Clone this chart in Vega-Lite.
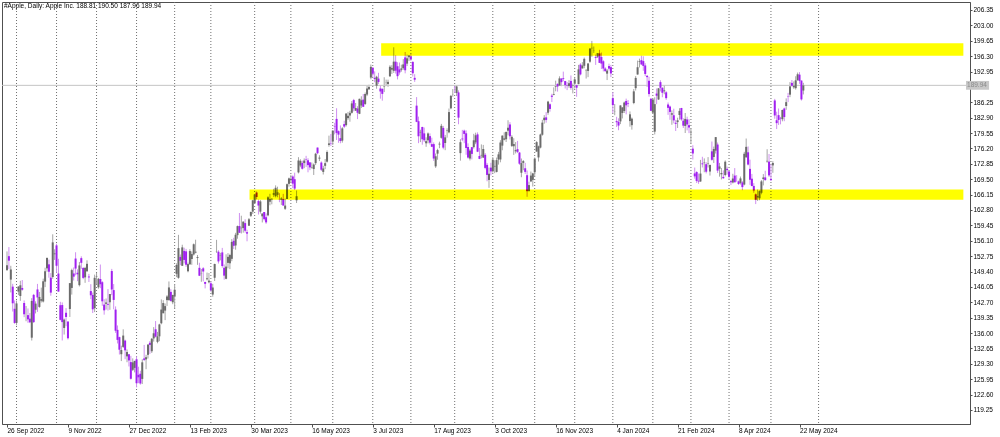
{
"$schema":"https://vega.github.io/schema/vega-lite/v6.json",
"width":968,"height":422,
"autosize":{"type":"none"},
"padding":{"left":2,"top":2,"right":30,"bottom":13},
"background":"white",
"config":{"view":{"stroke":"#505050","strokeWidth":1},"font":"Liberation Sans","axis":{"labelOverlap":false,"labelFlush":false,"labelBound":false}},
"title":{"text":"#Apple, Daily:  Apple Inc.  188.81 190.50 187.96 189.94","anchor":"start","orient":"top","offset":-8,"dx":2,"fontSize":6.5,"fontWeight":"normal","color":"#000000","font":"Liberation Sans","frame":"group"},
"datasets":{
"seps":[{"i":5},{"i":26},{"i":47},{"i":68},{"i":88},{"i":107},{"i":130},{"i":149},{"i":171},{"i":192},{"i":212},{"i":235},{"i":255},{"i":277},{"i":298},{"i":318},{"i":339},{"i":359},{"i":379},{"i":401},{"i":426}],
"zones":[{"x1":127.3,"x2":502,"lo":165.05,"hi":167.25},{"x1":196.4,"x2":502,"lo":196.4,"hi":199.1}],
"last":[{"p":189.94}],
"bars":[
{"i":0,"o":149.66,"h":153.77,"l":149.64,"c":150.77},
{"i":1,"o":152.74,"h":154.72,"l":149.95,"c":151.76},
{"i":2,"o":147.64,"h":150.64,"l":144.84,"c":149.84},
{"i":3,"o":146.10,"h":146.72,"l":140.68,"c":142.48},
{"i":4,"o":141.28,"h":143.10,"l":138.00,"c":138.20},
{"i":5,"o":138.21,"h":143.07,"l":137.69,"c":142.45},
{"i":6,"o":145.03,"h":146.22,"l":144.26,"c":146.10},
{"i":7,"o":144.07,"h":147.38,"l":143.01,"c":146.40},
{"i":8,"o":145.81,"h":147.54,"l":145.22,"c":145.43},
{"i":9,"o":142.54,"h":143.10,"l":139.45,"c":140.09},
{"i":10,"o":140.42,"h":141.89,"l":138.57,"c":140.42},
{"i":11,"o":139.90,"h":141.35,"l":138.22,"c":138.98},
{"i":12,"o":139.13,"h":140.36,"l":138.16,"c":138.34},
{"i":13,"o":134.99,"h":143.59,"l":134.37,"c":142.99},
{"i":14,"o":144.31,"h":144.52,"l":138.19,"c":138.38},
{"i":15,"o":141.07,"h":142.90,"l":140.27,"c":142.41},
{"i":16,"o":145.49,"h":146.70,"l":140.61,"c":143.75},
{"i":17,"o":141.69,"h":144.95,"l":141.50,"c":143.86},
{"i":18,"o":143.02,"h":145.89,"l":142.65,"c":143.39},
{"i":19,"o":142.87,"h":147.85,"l":142.65,"c":147.27},
{"i":20,"o":147.19,"h":150.23,"l":146.00,"c":149.45},
{"i":21,"o":150.09,"h":152.49,"l":149.36,"c":152.34},
{"i":22,"o":150.96,"h":151.99,"l":148.04,"c":149.35},
{"i":23,"o":148.07,"h":149.05,"l":144.13,"c":144.80},
{"i":24,"o":148.20,"h":157.50,"l":147.82,"c":155.74},
{"i":25,"o":153.16,"h":154.24,"l":151.92,"c":153.34},
{"i":26,"o":155.08,"h":155.45,"l":149.13,"c":150.65},
{"i":27,"o":148.95,"h":152.17,"l":145.00,"c":145.03},
{"i":28,"o":142.06,"h":142.80,"l":138.75,"c":138.88},
{"i":29,"o":142.09,"h":142.67,"l":134.38,"c":138.38},
{"i":30,"o":137.11,"h":139.15,"l":135.67,"c":138.92},
{"i":31,"o":140.41,"h":141.43,"l":137.49,"c":139.50},
{"i":32,"o":138.50,"h":138.55,"l":134.59,"c":134.87},
{"i":33,"o":141.24,"h":146.87,"l":139.50,"c":146.87},
{"i":34,"o":145.82,"h":150.01,"l":144.37,"c":149.70},
{"i":35,"o":148.97,"h":150.28,"l":147.43,"c":148.28},
{"i":36,"o":152.22,"h":153.59,"l":148.56,"c":150.04},
{"i":37,"o":149.13,"h":149.87,"l":147.29,"c":148.79},
{"i":38,"o":146.43,"h":151.48,"l":146.15,"c":150.72},
{"i":39,"o":152.31,"h":152.70,"l":149.97,"c":151.29},
{"i":40,"o":150.16,"h":150.37,"l":147.72,"c":148.01},
{"i":41,"o":148.13,"h":150.42,"l":146.93,"c":150.18},
{"i":42,"o":149.45,"h":151.83,"l":149.34,"c":151.07},
{"i":43,"o":148.31,"h":148.88,"l":147.12,"c":148.11},
{"i":44,"o":145.14,"h":146.64,"l":143.38,"c":144.22},
{"i":45,"o":144.29,"h":144.81,"l":140.35,"c":141.17},
{"i":46,"o":141.40,"h":148.72,"l":140.55,"c":148.03},
{"i":47,"o":148.21,"h":149.13,"l":146.61,"c":148.31},
{"i":48,"o":145.96,"h":148.00,"l":145.65,"c":147.81},
{"i":49,"o":147.77,"h":150.92,"l":145.77,"c":146.63},
{"i":50,"o":147.07,"h":147.30,"l":141.92,"c":142.91},
{"i":51,"o":142.19,"h":143.37,"l":140.00,"c":140.94},
{"i":52,"o":142.36,"h":143.52,"l":141.10,"c":142.65},
{"i":53,"o":142.34,"h":145.57,"l":140.90,"c":142.16},
{"i":54,"o":142.70,"h":144.50,"l":141.06,"c":144.49},
{"i":55,"o":149.50,"h":149.97,"l":144.24,"c":145.47},
{"i":56,"o":145.35,"h":146.66,"l":141.16,"c":143.21},
{"i":57,"o":141.11,"h":141.80,"l":136.03,"c":136.50},
{"i":58,"o":136.69,"h":137.65,"l":133.73,"c":134.51},
{"i":59,"o":135.11,"h":135.20,"l":131.32,"c":132.37},
{"i":60,"o":131.39,"h":133.25,"l":129.89,"c":132.30},
{"i":61,"o":132.98,"h":136.81,"l":132.75,"c":135.45},
{"i":62,"o":134.35,"h":134.56,"l":130.30,"c":132.23},
{"i":63,"o":130.92,"h":132.42,"l":129.64,"c":131.86},
{"i":64,"o":131.38,"h":131.41,"l":128.72,"c":130.03},
{"i":65,"o":129.67,"h":131.03,"l":125.87,"c":126.04},
{"i":66,"o":127.99,"h":130.48,"l":127.73,"c":129.61},
{"i":67,"o":128.41,"h":129.95,"l":127.43,"c":129.93},
{"i":68,"o":130.28,"h":130.90,"l":124.17,"c":125.07},
{"i":69,"o":126.89,"h":128.66,"l":125.08,"c":126.36},
{"i":70,"o":127.13,"h":127.77,"l":124.76,"c":125.02},
{"i":71,"o":126.01,"h":130.29,"l":124.89,"c":129.62},
{"i":72,"o":130.47,"h":133.41,"l":129.89,"c":130.15},
{"i":73,"o":130.26,"h":131.26,"l":128.12,"c":130.73},
{"i":74,"o":131.25,"h":133.51,"l":130.46,"c":133.49},
{"i":75,"o":133.88,"h":134.26,"l":131.44,"c":133.41},
{"i":76,"o":132.03,"h":134.92,"l":131.66,"c":134.76},
{"i":77,"o":134.83,"h":137.29,"l":134.13,"c":135.94},
{"i":78,"o":136.82,"h":138.61,"l":135.03,"c":135.21},
{"i":79,"o":134.08,"h":136.25,"l":133.77,"c":135.27},
{"i":80,"o":135.28,"h":138.02,"l":134.22,"c":137.87},
{"i":81,"o":138.12,"h":143.32,"l":137.90,"c":141.11},
{"i":82,"o":140.31,"h":143.16,"l":140.30,"c":142.53},
{"i":83,"o":140.89,"h":142.43,"l":138.81,"c":141.86},
{"i":84,"o":143.17,"h":144.25,"l":141.90,"c":143.96},
{"i":85,"o":143.16,"h":147.23,"l":143.08,"c":145.93},
{"i":86,"o":144.96,"h":145.55,"l":142.85,"c":143.00},
{"i":87,"o":142.70,"h":144.34,"l":142.28,"c":144.29},
{"i":88,"o":143.97,"h":146.61,"l":141.32,"c":145.43},
{"i":89,"o":148.90,"h":151.18,"l":148.17,"c":150.82},
{"i":90,"o":148.03,"h":157.38,"l":147.83,"c":154.50},
{"i":91,"o":152.57,"h":153.10,"l":150.78,"c":151.73},
{"i":92,"o":150.64,"h":155.23,"l":150.64,"c":154.65},
{"i":93,"o":153.88,"h":154.58,"l":151.17,"c":151.92},
{"i":94,"o":153.78,"h":154.33,"l":150.42,"c":150.87},
{"i":95,"o":149.46,"h":151.34,"l":149.22,"c":151.01},
{"i":96,"o":150.95,"h":154.26,"l":150.92,"c":153.85},
{"i":97,"o":152.12,"h":153.77,"l":150.86,"c":153.20},
{"i":98,"o":153.11,"h":155.50,"l":152.88,"c":155.33},
{"i":99,"o":153.51,"h":156.33,"l":153.35,"c":153.71},
{"i":100,"o":152.35,"h":153.00,"l":150.85,"c":152.55},
{"i":101,"o":150.20,"h":151.30,"l":148.41,"c":148.48},
{"i":102,"o":148.87,"h":149.95,"l":147.16,"c":148.91},
{"i":103,"o":150.09,"h":150.34,"l":147.24,"c":149.40},
{"i":104,"o":147.11,"h":147.19,"l":145.72,"c":146.71},
{"i":105,"o":147.71,"h":149.17,"l":147.45,"c":147.92},
{"i":106,"o":147.05,"h":149.08,"l":146.83,"c":147.41},
{"i":107,"o":146.83,"h":147.23,"l":145.01,"c":145.31},
{"i":108,"o":144.38,"h":146.71,"l":143.90,"c":145.91},
{"i":109,"o":148.04,"h":151.11,"l":147.33,"c":151.03},
{"i":110,"o":153.79,"h":156.30,"l":153.46,"c":153.83},
{"i":111,"o":153.70,"h":154.03,"l":151.13,"c":151.60},
{"i":112,"o":152.81,"h":153.47,"l":151.83,"c":152.87},
{"i":113,"o":153.56,"h":154.54,"l":150.23,"c":150.59},
{"i":114,"o":150.21,"h":150.94,"l":147.61,"c":148.50},
{"i":115,"o":147.81,"h":153.14,"l":147.70,"c":150.47},
{"i":116,"o":151.28,"h":153.40,"l":150.10,"c":152.59},
{"i":117,"o":151.19,"h":153.25,"l":149.92,"c":152.99},
{"i":118,"o":152.16,"h":156.46,"l":151.64,"c":155.85},
{"i":119,"o":156.08,"h":156.74,"l":154.28,"c":155.00},
{"i":120,"o":155.07,"h":157.82,"l":154.15,"c":157.40},
{"i":121,"o":157.32,"h":159.40,"l":156.54,"c":159.28},
{"i":122,"o":159.30,"h":162.14,"l":157.81,"c":157.83},
{"i":123,"o":158.83,"h":161.55,"l":157.68,"c":158.93},
{"i":124,"o":158.86,"h":160.34,"l":157.85,"c":160.25},
{"i":125,"o":159.94,"h":160.77,"l":157.87,"c":158.28},
{"i":126,"o":157.97,"h":158.49,"l":155.98,"c":157.65},
{"i":127,"o":159.37,"h":161.05,"l":159.35,"c":160.77},
{"i":128,"o":161.53,"h":162.47,"l":161.27,"c":162.36},
{"i":129,"o":162.44,"h":165.00,"l":161.91,"c":164.90},
{"i":130,"o":164.27,"h":166.29,"l":164.22,"c":166.17},
{"i":131,"o":166.60,"h":166.84,"l":165.11,"c":165.63},
{"i":132,"o":164.74,"h":165.05,"l":161.80,"c":163.76},
{"i":133,"o":162.43,"h":164.96,"l":162.00,"c":164.66},
{"i":134,"o":161.42,"h":162.03,"l":160.08,"c":162.03},
{"i":135,"o":162.35,"h":162.36,"l":160.51,"c":160.80},
{"i":136,"o":161.22,"h":162.06,"l":159.78,"c":160.10},
{"i":137,"o":161.63,"h":165.80,"l":161.42,"c":165.56},
{"i":138,"o":164.59,"h":166.32,"l":163.82,"c":165.21},
{"i":139,"o":165.09,"h":165.39,"l":164.03,"c":165.23},
{"i":140,"o":166.10,"h":167.41,"l":165.65,"c":166.47},
{"i":141,"o":165.80,"h":168.16,"l":165.54,"c":167.63},
{"i":142,"o":166.09,"h":167.87,"l":165.56,"c":166.65},
{"i":143,"o":165.05,"h":166.45,"l":164.49,"c":165.02},
{"i":144,"o":165.00,"h":165.60,"l":163.89,"c":165.33},
{"i":145,"o":165.19,"h":166.31,"l":163.73,"c":163.77},
{"i":146,"o":163.06,"h":165.28,"l":162.80,"c":163.76},
{"i":147,"o":165.19,"h":168.56,"l":165.19,"c":168.41},
{"i":148,"o":168.49,"h":169.85,"l":167.88,"c":169.68},
{"i":149,"o":169.28,"h":170.45,"l":168.64,"c":169.59},
{"i":150,"o":170.09,"h":170.35,"l":167.54,"c":168.54},
{"i":151,"o":169.50,"h":170.92,"l":167.16,"c":167.45},
{"i":152,"o":164.89,"h":167.04,"l":164.31,"c":165.79},
{"i":153,"o":170.98,"h":174.30,"l":170.76,"c":173.57},
{"i":154,"o":172.48,"h":173.85,"l":172.11,"c":173.50},
{"i":155,"o":173.05,"h":173.54,"l":171.60,"c":171.77},
{"i":156,"o":173.02,"h":174.03,"l":171.90,"c":173.56},
{"i":157,"o":173.85,"h":174.59,"l":172.17,"c":173.75},
{"i":158,"o":173.62,"h":174.06,"l":171.00,"c":172.57},
{"i":159,"o":173.16,"h":173.21,"l":171.47,"c":172.07},
{"i":160,"o":171.99,"h":173.14,"l":171.80,"c":172.07},
{"i":161,"o":171.71,"h":172.93,"l":170.42,"c":172.69},
{"i":162,"o":173.00,"h":175.24,"l":172.58,"c":175.05},
{"i":163,"o":176.39,"h":176.39,"l":174.94,"c":175.16},
{"i":164,"o":173.98,"h":174.71,"l":173.45,"c":174.20},
{"i":165,"o":173.13,"h":173.38,"l":171.28,"c":171.56},
{"i":166,"o":171.09,"h":172.42,"l":170.52,"c":171.84},
{"i":167,"o":172.41,"h":173.90,"l":171.69,"c":172.99},
{"i":168,"o":173.32,"h":175.77,"l":173.11,"c":175.43},
{"i":169,"o":176.96,"h":178.99,"l":176.57,"c":177.30},
{"i":170,"o":177.33,"h":179.35,"l":176.76,"c":177.25},
{"i":171,"o":177.70,"h":180.12,"l":176.93,"c":180.09},
{"i":172,"o":181.03,"h":181.78,"l":179.26,"c":180.95},
{"i":173,"o":182.63,"h":184.95,"l":178.04,"c":179.58},
{"i":174,"o":179.97,"h":180.12,"l":177.43,"c":179.21},
{"i":175,"o":178.44,"h":181.21,"l":177.32,"c":177.82},
{"i":176,"o":177.90,"h":180.84,"l":177.46,"c":180.57},
{"i":177,"o":181.50,"h":182.23,"l":180.63,"c":180.96},
{"i":178,"o":181.27,"h":183.89,"l":180.97,"c":183.79},
{"i":179,"o":182.80,"h":184.15,"l":182.44,"c":183.31},
{"i":180,"o":183.37,"h":184.39,"l":182.02,"c":183.95},
{"i":181,"o":183.96,"h":186.52,"l":183.78,"c":186.01},
{"i":182,"o":186.73,"h":186.99,"l":184.27,"c":184.92},
{"i":183,"o":184.41,"h":186.10,"l":184.41,"c":185.01},
{"i":184,"o":184.90,"h":185.41,"l":182.59,"c":183.96},
{"i":185,"o":183.74,"h":187.05,"l":183.67,"c":187.00},
{"i":186,"o":185.55,"h":187.56,"l":185.01,"c":186.68},
{"i":187,"o":186.83,"h":188.05,"l":185.23,"c":185.27},
{"i":188,"o":185.89,"h":188.39,"l":185.67,"c":188.06},
{"i":189,"o":187.93,"h":189.90,"l":187.60,"c":189.25},
{"i":190,"o":189.08,"h":190.07,"l":188.94,"c":189.59},
{"i":191,"o":191.63,"h":194.48,"l":191.26,"c":193.97},
{"i":192,"o":193.78,"h":193.88,"l":191.76,"c":192.46},
{"i":193,"o":191.57,"h":192.98,"l":190.62,"c":191.33},
{"i":194,"o":189.84,"h":192.02,"l":189.20,"c":191.81},
{"i":195,"o":191.41,"h":192.67,"l":190.24,"c":190.68},
{"i":196,"o":189.26,"h":189.99,"l":187.04,"c":188.61},
{"i":197,"o":189.16,"h":189.30,"l":186.60,"c":188.08},
{"i":198,"o":189.68,"h":191.70,"l":188.47,"c":189.77},
{"i":199,"o":190.50,"h":191.19,"l":189.78,"c":190.54},
{"i":200,"o":190.23,"h":191.18,"l":189.63,"c":190.69},
{"i":201,"o":191.90,"h":194.32,"l":191.81,"c":193.99},
{"i":202,"o":193.35,"h":194.33,"l":192.42,"c":193.73},
{"i":203,"o":193.10,"h":198.23,"l":192.65,"c":195.10},
{"i":204,"o":195.09,"h":196.47,"l":192.50,"c":193.13},
{"i":205,"o":194.10,"h":194.97,"l":191.23,"c":191.94},
{"i":206,"o":193.41,"h":194.91,"l":192.25,"c":192.75},
{"i":207,"o":193.33,"h":194.44,"l":192.92,"c":193.62},
{"i":208,"o":193.67,"h":195.64,"l":193.32,"c":194.50},
{"i":209,"o":196.02,"h":197.20,"l":192.55,"c":193.22},
{"i":210,"o":194.67,"h":196.63,"l":194.14,"c":195.83},
{"i":211,"o":196.06,"h":196.49,"l":195.26,"c":196.45},
{"i":212,"o":196.24,"h":196.73,"l":195.28,"c":195.61},
{"i":213,"o":195.04,"h":195.18,"l":191.85,"c":192.58},
{"i":214,"o":191.57,"h":192.37,"l":190.69,"c":191.17},
{"i":215,"o":185.52,"h":187.38,"l":181.92,"c":181.99},
{"i":216,"o":182.13,"h":183.13,"l":177.35,"c":178.85},
{"i":217,"o":179.69,"h":180.27,"l":177.58,"c":179.80},
{"i":218,"o":180.87,"h":180.93,"l":177.01,"c":178.19},
{"i":219,"o":179.48,"h":180.75,"l":177.60,"c":177.97},
{"i":220,"o":177.32,"h":178.62,"l":176.55,"c":177.79},
{"i":221,"o":177.97,"h":179.69,"l":177.31,"c":179.46},
{"i":222,"o":178.88,"h":179.48,"l":177.05,"c":177.45},
{"i":223,"o":177.13,"h":178.54,"l":176.50,"c":176.57},
{"i":224,"o":177.14,"h":177.51,"l":173.48,"c":174.00},
{"i":225,"o":172.30,"h":175.10,"l":171.96,"c":174.49},
{"i":226,"o":175.07,"h":176.13,"l":173.74,"c":175.84},
{"i":227,"o":177.06,"h":177.68,"l":176.25,"c":177.23},
{"i":228,"o":178.52,"h":181.55,"l":178.33,"c":181.12},
{"i":229,"o":180.67,"h":181.10,"l":176.01,"c":176.38},
{"i":230,"o":177.38,"h":179.15,"l":175.82,"c":178.61},
{"i":231,"o":180.09,"h":180.59,"l":178.55,"c":180.19},
{"i":232,"o":179.70,"h":184.90,"l":179.50,"c":184.12},
{"i":233,"o":184.94,"h":187.85,"l":184.74,"c":187.65},
{"i":234,"o":187.84,"h":189.12,"l":187.48,"c":187.87},
{"i":235,"o":189.49,"h":189.92,"l":188.28,"c":189.46},
{"i":236,"o":188.28,"h":189.98,"l":187.61,"c":189.70},
{"i":237,"o":188.40,"h":188.85,"l":181.47,"c":182.91},
{"i":238,"o":175.18,"h":178.21,"l":173.54,"c":177.56},
{"i":239,"o":178.35,"h":180.24,"l":177.79,"c":178.18},
{"i":240,"o":180.07,"h":180.30,"l":177.34,"c":179.36},
{"i":241,"o":179.49,"h":180.13,"l":174.82,"c":176.30},
{"i":242,"o":176.51,"h":177.30,"l":173.98,"c":174.21},
{"i":243,"o":174.00,"h":176.10,"l":173.58,"c":175.74},
{"i":244,"o":176.48,"h":176.50,"l":173.82,"c":175.01},
{"i":245,"o":176.48,"h":179.38,"l":176.17,"c":177.97},
{"i":246,"o":177.52,"h":179.63,"l":177.13,"c":179.07},
{"i":247,"o":179.26,"h":179.70,"l":175.40,"c":175.49},
{"i":248,"o":174.55,"h":176.30,"l":173.86,"c":173.93},
{"i":249,"o":174.67,"h":177.08,"l":174.05,"c":174.79},
{"i":250,"o":174.20,"h":176.97,"l":174.15,"c":176.08},
{"i":251,"o":174.82,"h":175.20,"l":171.66,"c":171.96},
{"i":252,"o":172.62,"h":173.04,"l":169.05,"c":170.43},
{"i":253,"o":169.34,"h":172.03,"l":167.62,"c":170.69},
{"i":254,"o":172.02,"h":173.07,"l":170.34,"c":171.21},
{"i":255,"o":171.22,"h":174.30,"l":170.93,"c":173.75},
{"i":256,"o":172.26,"h":173.63,"l":170.82,"c":172.40},
{"i":257,"o":171.09,"h":174.21,"l":170.97,"c":173.66},
{"i":258,"o":173.79,"h":175.45,"l":172.68,"c":174.91},
{"i":259,"o":173.80,"h":177.99,"l":173.18,"c":177.49},
{"i":260,"o":176.81,"h":179.05,"l":175.80,"c":178.99},
{"i":261,"o":178.10,"h":179.72,"l":177.95,"c":178.39},
{"i":262,"o":178.20,"h":179.85,"l":177.60,"c":179.80},
{"i":263,"o":180.07,"h":182.34,"l":179.04,"c":180.71},
{"i":264,"o":181.42,"h":181.93,"l":178.14,"c":178.85},
{"i":265,"o":176.75,"h":179.08,"l":176.51,"c":178.72},
{"i":266,"o":176.65,"h":178.42,"l":174.80,"c":177.15},
{"i":267,"o":175.58,"h":177.58,"l":175.11,"c":175.84},
{"i":268,"o":176.04,"h":177.84,"l":175.19,"c":175.46},
{"i":269,"o":175.31,"h":175.42,"l":172.64,"c":172.88},
{"i":270,"o":170.91,"h":174.01,"l":169.93,"c":173.00},
{"i":271,"o":173.05,"h":173.67,"l":171.45,"c":173.44},
{"i":272,"o":171.88,"h":173.06,"l":170.65,"c":171.10},
{"i":273,"o":170.37,"h":171.38,"l":165.67,"c":166.89},
{"i":274,"o":166.91,"h":168.96,"l":166.83,"c":168.22},
{"i":275,"o":169.02,"h":171.17,"l":168.87,"c":170.29},
{"i":276,"o":169.35,"h":170.90,"l":167.90,"c":170.77},
{"i":277,"o":171.00,"h":174.23,"l":170.12,"c":173.97},
{"i":278,"o":175.52,"h":177.78,"l":175.46,"c":177.57},
{"i":279,"o":174.24,"h":176.82,"l":173.35,"c":176.65},
{"i":280,"o":176.38,"h":179.43,"l":176.21,"c":179.23},
{"i":281,"o":179.18,"h":182.44,"l":178.97,"c":181.82},
{"i":282,"o":182.35,"h":183.45,"l":181.59,"c":182.89},
{"i":283,"o":182.96,"h":184.12,"l":181.81,"c":182.41},
{"i":284,"o":183.97,"h":186.57,"l":183.53,"c":186.40},
{"i":285,"o":185.82,"h":186.03,"l":184.21,"c":184.80},
{"i":286,"o":187.70,"h":188.11,"l":186.30,"c":187.44},
{"i":287,"o":187.85,"h":189.50,"l":187.78,"c":188.01},
{"i":288,"o":189.57,"h":190.96,"l":188.65,"c":189.71},
{"i":289,"o":190.25,"h":190.38,"l":188.57,"c":189.69},
{"i":290,"o":189.89,"h":191.91,"l":189.88,"c":191.45},
{"i":291,"o":191.41,"h":191.52,"l":189.74,"c":190.64},
{"i":292,"o":191.49,"h":192.93,"l":190.83,"c":191.31},
{"i":293,"o":190.87,"h":190.90,"l":189.25,"c":189.97},
{"i":294,"o":189.92,"h":190.67,"l":188.90,"c":189.79},
{"i":295,"o":189.78,"h":191.08,"l":189.40,"c":190.40},
{"i":296,"o":190.90,"h":192.09,"l":188.97,"c":189.37},
{"i":297,"o":189.84,"h":190.32,"l":188.19,"c":189.95},
{"i":298,"o":190.33,"h":191.56,"l":189.23,"c":191.24},
{"i":299,"o":189.98,"h":190.05,"l":187.45,"c":189.43},
{"i":300,"o":190.21,"h":194.40,"l":190.18,"c":193.42},
{"i":301,"o":194.45,"h":194.76,"l":192.11,"c":192.32},
{"i":302,"o":193.63,"h":195.00,"l":193.59,"c":194.27},
{"i":303,"o":194.20,"h":195.99,"l":193.67,"c":195.71},
{"i":304,"o":193.11,"h":193.49,"l":191.42,"c":193.18},
{"i":305,"o":193.08,"h":194.72,"l":191.72,"c":194.71},
{"i":306,"o":195.09,"h":198.00,"l":194.85,"c":197.96},
{"i":307,"o":198.02,"h":199.62,"l":196.16,"c":198.11},
{"i":308,"o":197.53,"h":198.40,"l":197.00,"c":197.57},
{"i":309,"o":196.09,"h":196.63,"l":194.39,"c":195.89},
{"i":310,"o":196.16,"h":196.95,"l":195.89,"c":196.94},
{"i":311,"o":196.90,"h":197.68,"l":194.83,"c":194.83},
{"i":312,"o":196.10,"h":197.08,"l":193.50,"c":194.68},
{"i":313,"o":195.18,"h":195.41,"l":192.97,"c":193.60},
{"i":314,"o":193.61,"h":193.89,"l":192.83,"c":193.05},
{"i":315,"o":192.49,"h":193.50,"l":191.09,"c":193.15},
{"i":316,"o":194.14,"h":194.66,"l":193.17,"c":193.58},
{"i":317,"o":193.90,"h":194.40,"l":191.73,"c":192.53},
{"i":318,"o":187.15,"h":188.44,"l":183.89,"c":185.64},
{"i":319,"o":184.22,"h":185.88,"l":183.43,"c":184.25},
{"i":320,"o":182.15,"h":183.09,"l":180.88,"c":181.91},
{"i":321,"o":181.99,"h":182.76,"l":180.17,"c":181.18},
{"i":322,"o":182.09,"h":185.60,"l":181.50,"c":185.56},
{"i":323,"o":183.92,"h":185.15,"l":182.73,"c":185.14},
{"i":324,"o":184.35,"h":186.40,"l":183.92,"c":186.19},
{"i":325,"o":186.54,"h":187.05,"l":183.62,"c":185.59},
{"i":326,"o":186.06,"h":186.74,"l":185.19,"c":185.92},
{"i":327,"o":182.16,"h":184.26,"l":180.93,"c":183.63},
{"i":328,"o":181.27,"h":182.93,"l":180.30,"c":182.68},
{"i":329,"o":186.09,"h":189.14,"l":185.83,"c":188.63},
{"i":330,"o":189.33,"h":191.95,"l":188.82,"c":191.56},
{"i":331,"o":192.30,"h":195.33,"l":192.26,"c":193.89},
{"i":332,"o":195.02,"h":195.75,"l":193.83,"c":195.18},
{"i":333,"o":195.42,"h":196.38,"l":194.34,"c":194.50},
{"i":334,"o":195.22,"h":196.27,"l":193.11,"c":194.17},
{"i":335,"o":194.27,"h":194.76,"l":191.94,"c":192.42},
{"i":336,"o":192.01,"h":192.20,"l":189.58,"c":191.73},
{"i":337,"o":190.94,"h":191.80,"l":187.47,"c":188.04},
{"i":338,"o":187.04,"h":187.10,"l":184.35,"c":184.40},
{"i":339,"o":183.99,"h":186.95,"l":183.82,"c":186.86},
{"i":340,"o":179.86,"h":187.33,"l":179.25,"c":185.85},
{"i":341,"o":188.15,"h":189.25,"l":185.84,"c":187.68},
{"i":342,"o":186.86,"h":189.31,"l":186.77,"c":189.30},
{"i":343,"o":190.64,"h":191.05,"l":188.61,"c":189.41},
{"i":344,"o":189.39,"h":189.54,"l":187.35,"c":188.32},
{"i":345,"o":188.65,"h":189.99,"l":188.00,"c":188.85},
{"i":346,"o":188.42,"h":188.67,"l":186.79,"c":187.15},
{"i":347,"o":185.77,"h":186.21,"l":183.51,"c":185.04},
{"i":348,"o":185.32,"h":185.53,"l":182.44,"c":184.15},
{"i":349,"o":183.55,"h":184.49,"l":181.35,"c":183.86},
{"i":350,"o":183.42,"h":184.85,"l":181.67,"c":182.31},
{"i":351,"o":181.79,"h":182.43,"l":180.00,"c":181.56},
{"i":352,"o":181.94,"h":182.89,"l":180.66,"c":182.32},
{"i":353,"o":183.48,"h":184.96,"l":182.46,"c":184.37},
{"i":354,"o":185.01,"h":185.04,"l":182.23,"c":182.52},
{"i":355,"o":182.24,"h":182.76,"l":180.65,"c":181.16},
{"i":356,"o":181.10,"h":183.92,"l":179.56,"c":182.63},
{"i":357,"o":182.51,"h":183.12,"l":180.13,"c":181.42},
{"i":358,"o":181.27,"h":182.57,"l":179.53,"c":180.75},
{"i":359,"o":179.55,"h":180.53,"l":177.38,"c":179.66},
{"i":360,"o":176.15,"h":176.90,"l":173.79,"c":175.10},
{"i":361,"o":170.76,"h":172.04,"l":169.62,"c":170.12},
{"i":362,"o":171.06,"h":171.24,"l":168.68,"c":169.12},
{"i":363,"o":169.15,"h":170.73,"l":168.49,"c":169.00},
{"i":364,"o":169.00,"h":173.70,"l":168.94,"c":170.73},
{"i":365,"o":172.94,"h":174.38,"l":172.05,"c":172.75},
{"i":366,"o":173.15,"h":174.03,"l":171.01,"c":173.23},
{"i":367,"o":172.77,"h":173.19,"l":170.76,"c":171.13},
{"i":368,"o":172.91,"h":174.31,"l":172.05,"c":173.00},
{"i":369,"o":171.17,"h":172.62,"l":170.29,"c":172.62},
{"i":370,"o":175.57,"h":177.71,"l":173.52,"c":173.72},
{"i":371,"o":174.34,"h":176.61,"l":173.03,"c":176.08},
{"i":372,"o":175.72,"h":178.67,"l":175.09,"c":178.67},
{"i":373,"o":177.05,"h":177.49,"l":170.84,"c":171.37},
{"i":374,"o":171.76,"h":173.05,"l":170.06,"c":172.28},
{"i":375,"o":170.57,"h":171.94,"l":169.45,"c":170.85},
{"i":376,"o":170.00,"h":171.42,"l":169.58,"c":169.71},
{"i":377,"o":170.41,"h":173.60,"l":170.11,"c":173.31},
{"i":378,"o":171.75,"h":172.23,"l":170.51,"c":171.48},
{"i":379,"o":171.19,"h":171.25,"l":169.48,"c":170.03},
{"i":380,"o":169.08,"h":169.34,"l":168.23,"c":168.84},
{"i":381,"o":168.79,"h":170.68,"l":168.58,"c":169.65},
{"i":382,"o":170.29,"h":171.92,"l":168.82,"c":168.82},
{"i":383,"o":169.59,"h":170.39,"l":168.95,"c":169.58},
{"i":384,"o":169.03,"h":169.20,"l":168.24,"c":168.45},
{"i":385,"o":168.70,"h":170.08,"l":168.35,"c":169.67},
{"i":386,"o":168.80,"h":169.09,"l":167.11,"c":167.78},
{"i":387,"o":168.34,"h":175.46,"l":168.16,"c":175.04},
{"i":388,"o":174.26,"h":178.36,"l":174.21,"c":176.55},
{"i":389,"o":175.36,"h":176.63,"l":172.50,"c":172.69},
{"i":390,"o":171.75,"h":173.76,"l":168.27,"c":169.38},
{"i":391,"o":169.61,"h":170.65,"l":168.00,"c":168.00},
{"i":392,"o":168.03,"h":168.64,"l":166.55,"c":167.04},
{"i":393,"o":166.21,"h":166.40,"l":164.08,"c":165.00},
{"i":394,"o":165.52,"h":167.26,"l":164.77,"c":165.84},
{"i":395,"o":165.35,"h":167.05,"l":164.92,"c":166.90},
{"i":396,"o":166.54,"h":169.30,"l":166.21,"c":169.02},
{"i":397,"o":169.53,"h":170.61,"l":168.15,"c":169.89},
{"i":398,"o":169.88,"h":171.34,"l":169.18,"c":169.30},
{"i":399,"o":173.37,"h":176.03,"l":173.10,"c":173.50},
{"i":400,"o":173.33,"h":174.99,"l":170.00,"c":170.33},
{"i":401,"o":169.58,"h":172.71,"l":169.11,"c":169.30},
{"i":402,"o":172.51,"h":173.42,"l":170.89,"c":173.03},
{"i":403,"o":186.65,"h":187.00,"l":182.66,"c":183.38},
{"i":404,"o":182.35,"h":184.20,"l":180.42,"c":181.71},
{"i":405,"o":183.45,"h":184.90,"l":181.32,"c":182.40},
{"i":406,"o":182.85,"h":183.07,"l":181.45,"c":182.74},
{"i":407,"o":182.56,"h":184.66,"l":182.11,"c":184.57},
{"i":408,"o":184.90,"h":185.09,"l":182.13,"c":183.05},
{"i":409,"o":185.44,"h":187.10,"l":184.62,"c":186.28},
{"i":410,"o":187.51,"h":188.30,"l":186.29,"c":187.43},
{"i":411,"o":187.91,"h":190.65,"l":187.37,"c":189.72},
{"i":412,"o":190.47,"h":191.10,"l":189.66,"c":189.84},
{"i":413,"o":189.51,"h":190.81,"l":189.18,"c":189.87},
{"i":414,"o":189.33,"h":191.92,"l":189.01,"c":191.04},
{"i":415,"o":191.09,"h":192.73,"l":190.92,"c":192.35},
{"i":416,"o":192.27,"h":192.82,"l":190.27,"c":190.90},
{"i":417,"o":190.98,"h":191.00,"l":186.63,"c":186.88},
{"i":418,"o":188.81,"h":190.50,"l":187.96,"c":189.94}
]},
"layer":[
{"data":{"name":"seps"},"mark":{"type":"rule","strokeDash":[1,2],"color":"#707070","strokeWidth":1},
 "encoding":{"x":{"field":"i","type":"quantitative","scale":{"domain":[0,502.86],"nice":false,"zero":false},
  "axis":{"orient":"bottom","values":[0,32,64,96,128,160,192,224,256,288,320,352,384,416],"tickCount":100,
   "labelExpr":"['26 Sep 2022','9 Nov 2022','27 Dec 2022','13 Feb 2023','30 Mar 2023','16 May 2023','3 Jul 2023','17 Aug 2023','3 Oct 2023','16 Nov 2023','4 Jan 2024','21 Feb 2024','8 Apr 2024','22 May 2024'][round(datum.value/32)]",
   "labelAlign":"left","labelBaseline":"top","labelPadding":0,"labelFontSize":6.5,"labelColor":"#000000","labelFont":"Liberation Sans","labelFlush":false,"labelOverlap":false,
   "tickSize":3,"tickColor":"#505050","domainColor":"#505050","grid":false,"title":null}}}},
{"data":{"name":"bars"},"mark":{"type":"rule","strokeWidth":1},
 "encoding":{"x":{"field":"i","type":"quantitative"},
  "y":{"field":"l","type":"quantitative","scale":{"domain":[116.19,208.09],"nice":false,"zero":false},
   "axis":{"orient":"right","tickCount":100,"values":[119.25,122.6,125.95,129.3,132.65,136,139.35,142.7,146.05,149.4,152.75,156.1,159.45,162.8,166.15,169.5,172.85,176.2,179.55,182.9,186.25,192.95,196.3,199.65,203,206.35],
    "format":".2f","labelAlign":"left","labelBaseline":"middle","labelPadding":1,"labelFontSize":6.5,"labelColor":"#000000","labelFont":"Liberation Sans",
    "tickSize":2,"tickColor":"#505050","domainColor":"#505050","grid":false,"title":null,"labelOverlap":false,"labelSeparation":0}},
  "y2":{"field":"h"},
  "color":{"condition":{"test":"datum.c >= datum.o","value":"#a6a6a6"},"value":"#cf8ff0"}}},
{"data":{"name":"last"},"mark":{"type":"rule","color":"#c4c4c4","strokeWidth":1},
 "encoding":{"y":{"field":"p","type":"quantitative"}}},
{"data":{"name":"bars"},"mark":{"type":"bar","size":2},
 "encoding":{"x":{"field":"i","type":"quantitative"},"y":{"field":"o","type":"quantitative"},"y2":{"field":"c"},
  "color":{"condition":{"test":"datum.c >= datum.o","value":"#6b6b6b"},"value":"#a020f0"}}},
{"data":{"name":"zones"},"mark":{"type":"rect","color":"#ffff00","opacity":1,"blend":"multiply"},
 "encoding":{"x":{"field":"x1","type":"quantitative"},"x2":{"field":"x2"},"y":{"field":"lo","type":"quantitative"},"y2":{"field":"hi"}}},
{"data":{"name":"last"},"mark":{"type":"rect","color":"#c8c8c8","clip":false},
 "encoding":{"x":{"datum":503.4},"x2":{"datum":515.5},"y":{"datum":190.9},"y2":{"datum":188.98}}},
{"data":{"name":"last"},"mark":{"type":"text","align":"left","baseline":"middle","fontSize":6.5,"font":"Liberation Sans","color":"#8a8a8a","dx":1,"clip":false},
 "encoding":{"x":{"datum":503.4},"y":{"field":"p","type":"quantitative"},"text":{"field":"p","type":"quantitative","format":".2f"}}}
]
}
